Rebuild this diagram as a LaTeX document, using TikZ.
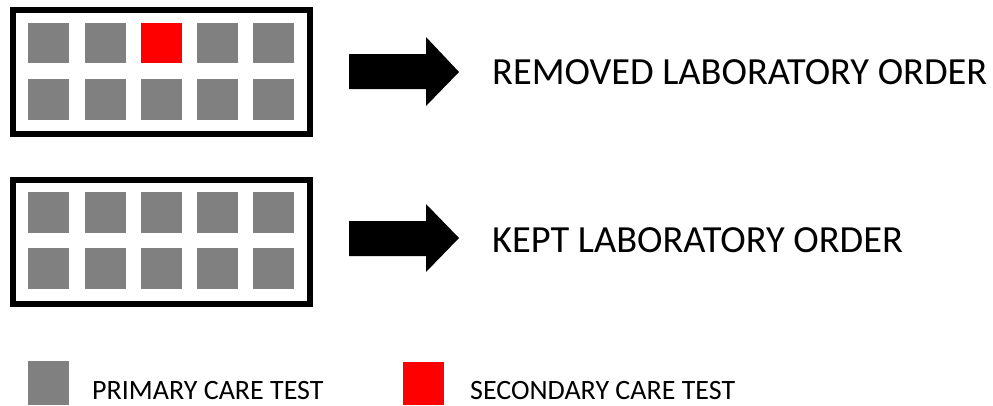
\documentclass[tikz,border=0pt]{standalone}
\usepackage{fontspec}
\setmainfont{Carlito}
\definecolor{testgray}{RGB}{128,128,128}
\definecolor{testred}{RGB}{255,0,0}
\begin{document}
\begin{tikzpicture}[x=1pt,y=-1pt,
  panel/.style={draw=black,line width=6pt},
  cell/.style={fill=testgray},
  redcell/.style={fill=testred},
  bigarrow/.style={fill=black},
  label/.style={anchor=base west,inner sep=0pt,font=\fontsize{38.4}{42}\selectfont},
  legendtext/.style={anchor=base west,inner sep=0pt,text depth=0pt,font=\fontsize{28}{32}\selectfont}]
\useasboundingbox (0,0) rectangle (993,405);

% upper order: one secondary care test among primary care tests
\draw[panel] (13,10) rectangle (310,134);
\foreach \x in {28,85,141,197,253}{
  \fill[cell] (\x,79) rectangle ++(41,41);
}
\foreach \x in {28,85,197,253}{
  \fill[cell] (\x,23) rectangle ++(41,40);
}
\fill[redcell] (141,23) rectangle ++(41,40);
\fill[bigarrow] (349,54) -- (426,54) -- (426,37) -- (459,72) -- (426,106) -- (426,89) -- (349,89) -- cycle;
\node[label] (removed) at (492,84) {REMOVED LABORATORY ORDER};

% lower order: primary care tests only
\draw[panel] (13,180) rectangle (310,304);
\foreach \x in {28,85,141,197,253}{
  \fill[cell] (\x,192) rectangle ++(41,41);
  \fill[cell] (\x,248) rectangle ++(41,41);
}
\fill[bigarrow] (349,221) -- (426,221) -- (426,204) -- (459,238) -- (426,272) -- (426,256) -- (349,256) -- cycle;
\node[label] (kept) at (492,252) {KEPT LABORATORY ORDER};

% legend
\fill[cell] (28,361) rectangle (69,405);
\node[legendtext] (primary) at (92,399) {PRIMARY CARE TEST};
\fill[redcell] (403,362) rectangle (444,405);
\node[legendtext] (secondary) at (470,399) {SECONDARY CARE TEST};
\end{tikzpicture}
\end{document}
